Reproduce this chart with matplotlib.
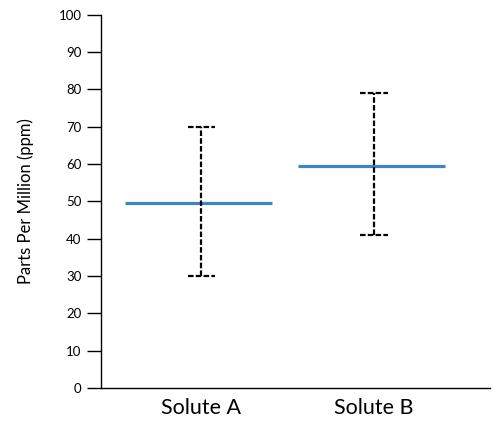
import matplotlib
matplotlib.use("Agg")
import matplotlib.pyplot as plt

plt.rcParams['font.family'] = ['Lato', 'DejaVu Sans']

categories = ["Solute A", "Solute B"]
means = [49.5, 59.5]
lows = [30, 41]
highs = [70, 79]
yticks = [0, 10, 20, 30, 40, 50, 60, 70, 80, 90, 100]

fig = plt.figure(figsize=(4.93, 4.22), dpi=100)
ax = fig.add_axes([0.205, 0.081, 0.789, 0.884])

xs = [1, 2]
dash = (0, (2.5, 1.0))
for x, m, lo, hi in zip(xs, means, lows, highs):
    ax.hlines(m, x - 0.44, x + 0.41, color="#3d85c6", linewidth=2.3, zorder=2)
    ax.vlines(x, lo, hi, color="black", linewidth=1.6, linestyles=dash, zorder=3)
    for v in (lo, hi):
        ax.hlines(v, x - 0.08, x + 0.08, color="black", linewidth=1.6,
                  linestyles=dash, zorder=3)

ax.set_xlim(0.42, 2.67)
ax.set_ylim(0, 100)
ax.set_yticks(yticks)
ax.set_xticks(xs)
ax.set_xticklabels(categories, fontsize=15.5)
ax.tick_params(axis='x', length=0, pad=7)
ax.tick_params(axis='y', length=10, width=1, labelsize=9.5, pad=4)
ax.set_ylabel("Parts Per Million (ppm)", fontsize=12, labelpad=18)
for s in ("top", "right"):
    ax.spines[s].set_visible(False)
for s in ("left", "bottom"):
    ax.spines[s].set_linewidth(1)

fig.savefig("out.png", dpi=100)
